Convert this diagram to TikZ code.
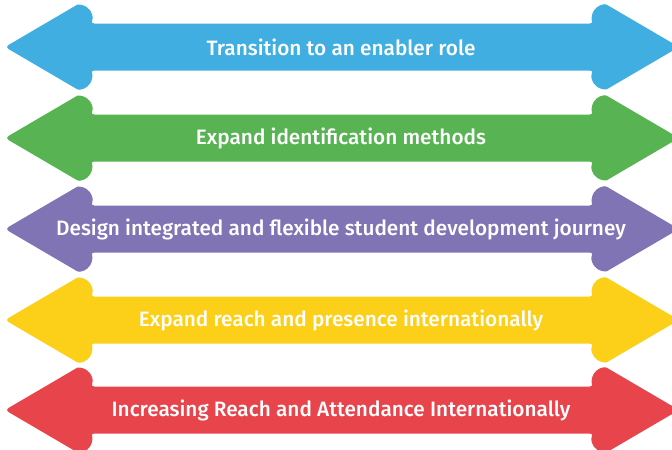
\documentclass[tikz,border=0pt]{standalone}
\usepackage{fontspec}
\setmainfont{Fira Sans}[UprightFont=* Medium]
\usepackage{tikz}

\definecolor{bandblue}{RGB}{64,174,224}
\definecolor{bandgreen}{RGB}{88,180,82}
\definecolor{bandpurple}{RGB}{128,116,180}
\definecolor{bandyellow}{RGB}{252,208,24}
\definecolor{bandred}{RGB}{232,68,76}

\tikzset{
  bandlabel/.style={text=white, font=\fontsize{15.6}{18}\selectfont, inner sep=0pt},
}

\begin{document}
\begin{tikzpicture}[x=0.75pt, y=0.75pt]
\useasboundingbox (0,-450) rectangle (672,0);
\clip (0,-450) rectangle (672,0);
\foreach \yy/\col/\txt/\nm in {47/bandblue/Transition to an enabler role/enabler,
    138/bandgreen/Expand identification methods/methods,
    229/bandpurple/Design integrated and flexible student development journey/journey,
    320/bandyellow/Expand reach and presence internationally/presence,
    410/bandred/Increasing Reach and Attendance Internationally/attendance}{
  \begin{scope}[shift={(0,-\yy)}]
  % two-headed arrow, round lobes at the back of each head
  \fill[\col, rounded corners=3] (90.1,23.5)
      arc[start angle=-32.8, end angle=120.3, radius=12] -- (5,0)
      -- (73.95,-40.36) arc[start angle=-120.3, end angle=32.8, radius=12]
      -- (593.9,-23.5) arc[start angle=147.2, end angle=300.3, radius=12]
      -- (679,0)
      -- (610.05,40.36) arc[start angle=59.7, end angle=212.8, radius=12]
      -- cycle;
  \node[bandlabel] (\nm) at (341,0) {\txt};
  \end{scope}
}
\end{tikzpicture}
\end{document}
